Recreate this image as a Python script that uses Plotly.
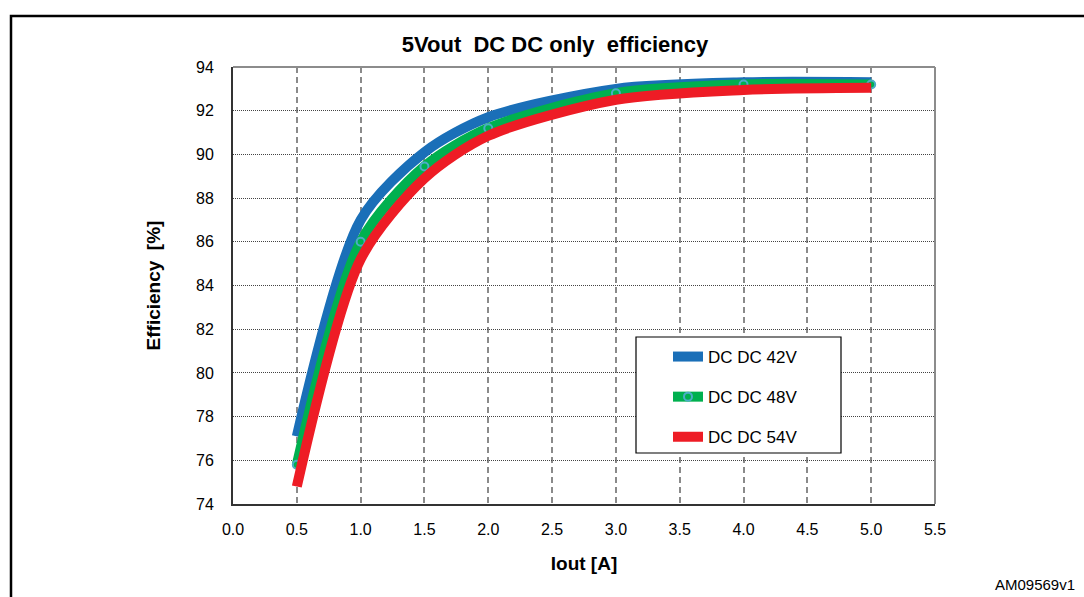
import plotly.graph_objects as go

iout = [0.5, 1.0, 1.5, 2.0, 3.0, 4.0, 5.0]
eff_42v = [77.1, 87.0, 90.1, 91.7, 93.0, 93.3, 93.3]
eff_48v = [75.8, 86.0, 89.45, 91.2, 92.8, 93.2, 93.2]
eff_54v = [74.8, 85.2, 88.9, 90.85, 92.5, 92.95, 93.05]

series_names = ["DC DC 42V", "DC DC 48V", "DC DC 54V"]
x_ticks = [0.0, 0.5, 1.0, 1.5, 2.0, 2.5, 3.0, 3.5, 4.0, 4.5, 5.0, 5.5]
y_ticks = [74, 76, 78, 80, 82, 84, 86, 88, 90, 92, 94]

W, H = 1084, 597
L, R, T, B = 233, 1084 - 935, 67, 597 - 504
pw, ph = W - L - R, H - T - B

def px(x):
    return (x - L) / pw

def py(y):
    return (H - B - y) / ph

fig = go.Figure()
fig.add_trace(go.Scatter(x=iout, y=eff_42v, name=series_names[0], mode="lines", legendgroup="a",
                         line=dict(color="#1a6fb8", width=10, shape="spline", smoothing=0.8)))
fig.add_trace(go.Scatter(x=iout, y=eff_48v, name=series_names[1], mode="lines+markers", legendgroup="b",
                         line=dict(color="#00b04f", width=10, shape="spline", smoothing=0.8),
                         marker=dict(size=8, color="#00b04f", line=dict(color="#4bacc6", width=2))))
fig.add_trace(go.Scatter(x=iout, y=eff_54v, name=series_names[2], mode="lines", legendgroup="c",
                         line=dict(color="#ee1c25", width=10, shape="spline", smoothing=0.8)))

font = "Liberation Sans, Arial, sans-serif"
fig.update_layout(
    width=W, height=H,
    margin=dict(l=L, r=R, t=T, b=B),
    paper_bgcolor="white", plot_bgcolor="white",
    font=dict(family=font, size=16, color="black"),
    title=dict(text="<b>5Vout&nbsp;&nbsp;DC DC only&nbsp;&nbsp;efficiency</b>", xref="container",
               x=555 / W, xanchor="center", y=1 - 44 / H, yanchor="middle", font=dict(size=22)),
    showlegend=True,
    legend=dict(x=px(668), y=py(339), xanchor="left", yanchor="top",
                bgcolor="rgba(0,0,0,0)", borderwidth=0,
                font=dict(size=17), itemwidth=30, tracegroupgap=15,
                traceorder="grouped"),
    xaxis=dict(range=[0, 5.5], tickvals=x_ticks, ticktext=[f"{v:.1f}" for v in x_ticks],
               showgrid=True, gridcolor="#8a8a8a", griddash="6px,4px", gridwidth=1.5,
               showline=True, linecolor="#333333", linewidth=2, mirror=False,
               ticks="", zeroline=False, ticklabelstandoff=10,
               title=dict(text="<b>Iout [A]</b>", font=dict(size=19), standoff=19)),
    yaxis=dict(range=[74, 94], tickvals=y_ticks,
               showgrid=True, gridcolor="#444444", griddash="1px,1px", gridwidth=1,
               showline=True, linecolor="#333333", linewidth=2,
               ticks="", zeroline=False, ticklabelstandoff=14,
               title=dict(text="<b>Efficiency&nbsp;&nbsp;[%]</b>", font=dict(size=19), standoff=30)),
    shapes=[
        dict(type="line", xref="paper", yref="paper", x0=0, x1=1, y0=1, y1=1,
             line=dict(color="#8c8c8c", width=2)),
        dict(type="line", xref="paper", yref="paper", x0=1, x1=1, y0=0, y1=1,
             line=dict(color="#8c8c8c", width=2)),
        dict(type="rect", xref="paper", yref="paper", x0=px(636), x1=px(841),
             y0=py(453), y1=py(337), fillcolor="white", line=dict(color="black", width=1.2)),
        dict(type="rect", xref="paper", yref="paper", x0=px(11), x1=px(1090),
             y0=py(605), y1=py(16), line=dict(color="black", width=2.5)),
    ],
    annotations=[
        dict(text="AM09569v1", xref="paper", yref="paper", x=px(1077), y=py(584),
             xanchor="right", yanchor="middle", showarrow=False, font=dict(size=15)),
    ],
)

fig.write_html("out.html", config={"displayModeBar": False},
               post_script="document.body.style.margin='0';document.body.style.overflow='hidden';")
